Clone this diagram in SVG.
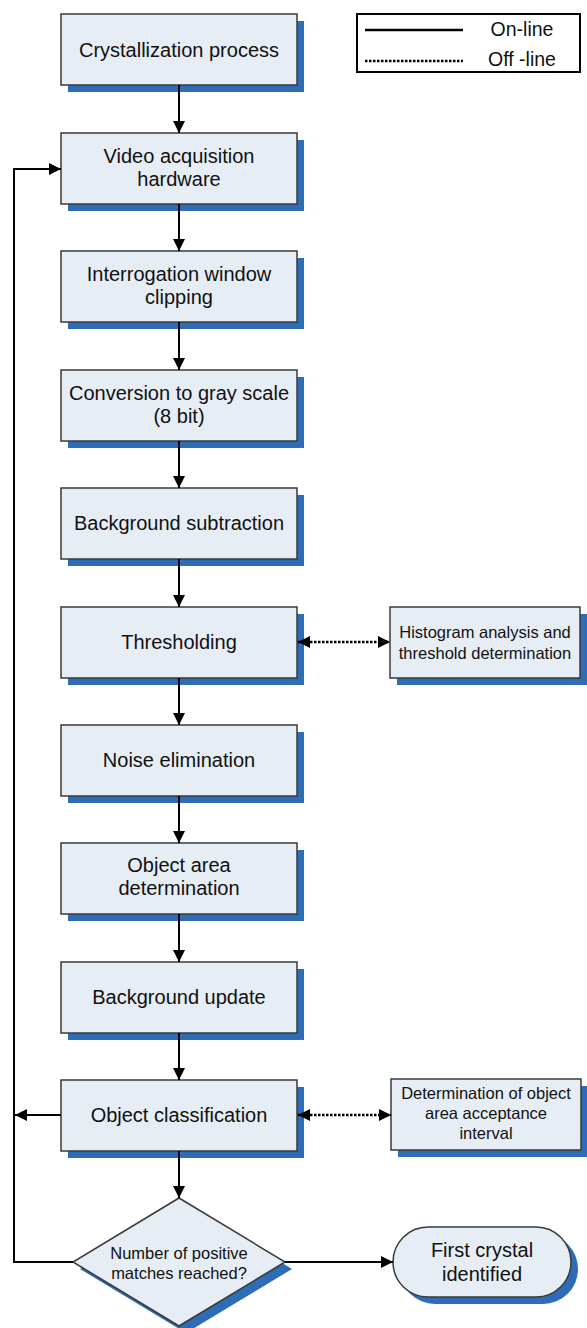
<svg xmlns="http://www.w3.org/2000/svg" width="587" height="1328" viewBox="0 0 587 1328">
  <defs>
    <marker id="ah" viewBox="0 0 10 10" refX="10" refY="5" markerWidth="12" markerHeight="12" markerUnits="userSpaceOnUse" orient="auto-start-reverse">
      <path d="M0,0 L10,5 L0,10 z" fill="#000"/>
    </marker>
  </defs>
  <style>
    .sh { fill: #2e6cb5; }
    .box { fill: #e6edf5; stroke: #3a3a3a; stroke-width: 1.5; }
    .t { font-family: "Liberation Sans", Arial, sans-serif; font-size: 20px; fill: #111; text-anchor: middle; }
    .s { font-family: "Liberation Sans", Arial, sans-serif; font-size: 16.5px; fill: #111; text-anchor: middle; }
    .ln { stroke: #000; stroke-width: 2; fill: none; }
    .dl { stroke: #000; stroke-width: 2.5; fill: none; stroke-dasharray: 2.5 1.5; }
  </style>
  <rect width="587" height="1328" fill="#fff"/>

  <g id="legend">
    <rect x="357" y="14" width="223" height="58" fill="#fff" stroke="#000" stroke-width="2"/>
    <line x1="365" y1="30" x2="463" y2="30" stroke="#000" stroke-width="2.5"/>
    <line x1="365" y1="61" x2="463" y2="61" stroke="#000" stroke-width="2.5" stroke-dasharray="2.5 1.5"/>
    <text x="522" y="36" class="t" style="font-size:19.5px">On-line</text>
    <text x="522" y="66" class="t" style="font-size:19.5px">Off -line</text>
  </g>

  <g id="n1"><rect class="sh" x="68" y="21" width="236" height="71"/><rect class="box" x="61" y="14" width="236" height="71"/>
    <text class="t" x="179" y="56.5">Crystallization process</text></g>
  <g id="n2"><rect class="sh" x="68" y="140" width="236" height="71"/><rect class="box" x="61" y="133" width="236" height="71"/>
    <text class="t" x="179" y="162.5">Video acquisition</text><text class="t" x="179" y="185.5">hardware</text></g>
  <g id="n3"><rect class="sh" x="68" y="258" width="236" height="71"/><rect class="box" x="61" y="251" width="236" height="71"/>
    <text class="t" x="179" y="280.5">Interrogation window</text><text class="t" x="179" y="303.5">clipping</text></g>
  <g id="n4"><rect class="sh" x="68" y="377" width="236" height="71"/><rect class="box" x="61" y="370" width="236" height="71"/>
    <text class="t" x="179" y="399.5">Conversion to gray scale</text><text class="t" x="179" y="422.5">(8 bit)</text></g>
  <g id="n5"><rect class="sh" x="68" y="495" width="236" height="71"/><rect class="box" x="61" y="488" width="236" height="71"/>
    <text class="t" x="179" y="530">Background subtraction</text></g>
  <g id="n6"><rect class="sh" x="68" y="614" width="236" height="71"/><rect class="box" x="61" y="607" width="236" height="71"/>
    <text class="t" x="179" y="649">Thresholding</text></g>
  <g id="n7"><rect class="sh" x="68" y="732" width="236" height="71"/><rect class="box" x="61" y="725" width="236" height="71"/>
    <text class="t" x="179" y="767">Noise elimination</text></g>
  <g id="n8"><rect class="sh" x="68" y="850" width="236" height="71"/><rect class="box" x="61" y="843" width="236" height="71"/>
    <text class="t" x="179" y="872">Object area</text><text class="t" x="179" y="895">determination</text></g>
  <g id="n9"><rect class="sh" x="68" y="969" width="236" height="71"/><rect class="box" x="61" y="962" width="236" height="71"/>
    <text class="t" x="179" y="1004">Background update</text></g>
  <g id="n10"><rect class="sh" x="68" y="1087" width="236" height="71"/><rect class="box" x="61" y="1080" width="236" height="71"/>
    <text class="t" x="179" y="1122">Object classification</text></g>

  <g id="h1"><rect class="sh" x="397" y="614" width="190" height="71"/><rect class="box" x="390" y="607" width="190" height="71"/>
    <text class="s" x="485" y="638">Histogram analysis and</text><text class="s" x="485" y="659">threshold determination</text></g>
  <g id="h2"><rect class="sh" x="398" y="1086" width="190" height="71"/><rect class="box" x="391" y="1079" width="190" height="71"/>
    <text class="s" x="486" y="1099">Determination of object</text><text class="s" x="486" y="1119">area acceptance</text><text class="s" x="486" y="1139">interval</text></g>

  <g id="decision"><polygon class="sh" points="186,1205 292,1269 186,1333 80,1269"/>
    <polygon class="box" points="179,1198 285,1262 179,1326 73,1262"/>
    <text class="s" x="179" y="1259">Number of positive</text><text class="s" x="179" y="1279">matches reached?</text></g>

  <g id="end"><rect class="sh" x="400" y="1234" width="178" height="70" rx="35" ry="35"/>
    <rect class="box" x="393" y="1227" width="178" height="70" rx="35" ry="35"/>
    <text class="t" x="482" y="1257">First crystal</text><text class="t" x="482" y="1281">identified</text></g>

  <g id="connectors">
    <line class="ln" x1="179" y1="85" x2="179" y2="133" marker-end="url(#ah)"/>
    <line class="ln" x1="179" y1="204" x2="179" y2="251" marker-end="url(#ah)"/>
    <line class="ln" x1="179" y1="322" x2="179" y2="370" marker-end="url(#ah)"/>
    <line class="ln" x1="179" y1="441" x2="179" y2="488" marker-end="url(#ah)"/>
    <line class="ln" x1="179" y1="559" x2="179" y2="607" marker-end="url(#ah)"/>
    <line class="ln" x1="179" y1="678" x2="179" y2="725" marker-end="url(#ah)"/>
    <line class="ln" x1="179" y1="796" x2="179" y2="843" marker-end="url(#ah)"/>
    <line class="ln" x1="179" y1="914" x2="179" y2="962" marker-end="url(#ah)"/>
    <line class="ln" x1="179" y1="1033" x2="179" y2="1080" marker-end="url(#ah)"/>
    <line class="ln" x1="179" y1="1151" x2="179" y2="1198" marker-end="url(#ah)"/>
    <polyline class="ln" points="73,1262 14,1262 14,169 61,169" marker-end="url(#ah)"/>
    <line class="ln" x1="61" y1="1115" x2="15" y2="1115" marker-end="url(#ah)"/>
    <line class="ln" x1="285" y1="1262" x2="393" y2="1262" marker-end="url(#ah)"/>
    <line class="dl" x1="298" y1="642" x2="390" y2="642" marker-start="url(#ah)" marker-end="url(#ah)"/>
    <line class="dl" x1="298" y1="1115" x2="391" y2="1115" marker-start="url(#ah)" marker-end="url(#ah)"/>
  </g>
</svg>
